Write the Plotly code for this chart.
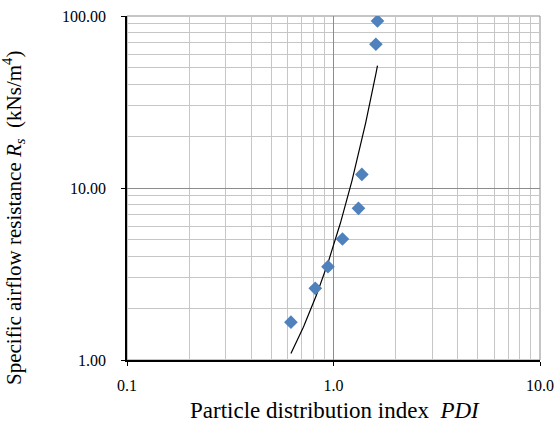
import numpy as np
import plotly.graph_objects as go

# Data
pdi = [0.622, 0.816, 0.940, 1.105, 1.321, 1.372, 1.604, 1.633]
rs = [1.66, 2.61, 3.49, 5.05, 7.62, 12.0, 68.5, 93.5]

x_tickvals = [0.1, 1, 10]
x_ticktext = ["0.1", "1.0", "10.0"]
y_tickvals = [1, 10, 100]
y_ticktext = ["1.00", "10.00", "100.00"]

# exponential trendline (least squares on ln y, like Excel)
b, ln_a = np.polyfit(np.array(pdi), np.log(np.array(rs)), 1)
xt = np.linspace(min(pdi), max(pdi), 200)
yt = np.exp(ln_a) * np.exp(b * xt)

minor_x = [m * d for d in (0.1, 1) for m in range(2, 10)]
minor_y = [m * d for d in (1, 10) for m in range(2, 10)]

FONT = "Liberation Serif, Times New Roman, serif"

fig = go.Figure()
fig.add_trace(go.Scatter(x=xt, y=yt, mode="lines",
                         line=dict(color="black", width=1.2), showlegend=False))
fig.add_trace(go.Scatter(x=pdi, y=rs, mode="markers",
                         marker=dict(symbol="diamond", size=10.5, color="#4F81BD",
                                     line=dict(width=0)),
                         showlegend=False))

fig.update_layout(
    width=560, height=423,
    margin=dict(l=127, r=20, t=16, b=63, autoexpand=False),
    paper_bgcolor="white", plot_bgcolor="white",
    font=dict(family=FONT, size=16, color="black"),
)
fig.update_xaxes(
    type="log", range=[-1, 1],
    tickvals=x_tickvals, ticktext=x_ticktext,
    showgrid=True, gridcolor="#8c8c8c", gridwidth=1,
    minor=dict(tickvals=minor_x, showgrid=True, gridcolor="#c6c6c6", gridwidth=1,
               ticks=""),
    showline=True, linecolor="black", linewidth=1.5,
    ticks="outside", ticklen=4, tickcolor="black",
    zeroline=False, ticklabelstandoff=6,
)
fig.update_yaxes(
    type="log", range=[0, 2],
    tickvals=y_tickvals, ticktext=y_ticktext,
    showgrid=True, gridcolor="#8c8c8c", gridwidth=1,
    minor=dict(tickvals=minor_y, showgrid=True, gridcolor="#c6c6c6", gridwidth=1,
               ticks=""),
    showline=True, linecolor="black", linewidth=1.5,
    ticks="outside", ticklen=4, tickcolor="black",
    zeroline=False, ticklabelstandoff=12,
)
fig.add_shape(type="rect", xref="paper", yref="paper", x0=0, y0=0, x1=1, y1=1,
              line=dict(color="#8c8c8c", width=1), layer="below")

fig.add_annotation(
    text="Specific airflow resistance <i>R</i><sub><i>s</i></sub>  (kNs/m<sup>4</sup>)",
    xref="paper", yref="paper", x=(14 - 127) / 413, y=(360 - 218) / 344,
    xanchor="center", yanchor="middle", textangle=-90, showarrow=False,
    font=dict(family=FONT, size=21, color="black"),
)
fig.add_annotation(
    text="Particle distribution index  <i>PDI</i>",
    xref="paper", yref="paper", x=(335 - 127) / 413, y=(360 - 410) / 344,
    xanchor="center", yanchor="middle", showarrow=False,
    font=dict(family=FONT, size=23, color="black"),
)

fig.write_html("out.html")
